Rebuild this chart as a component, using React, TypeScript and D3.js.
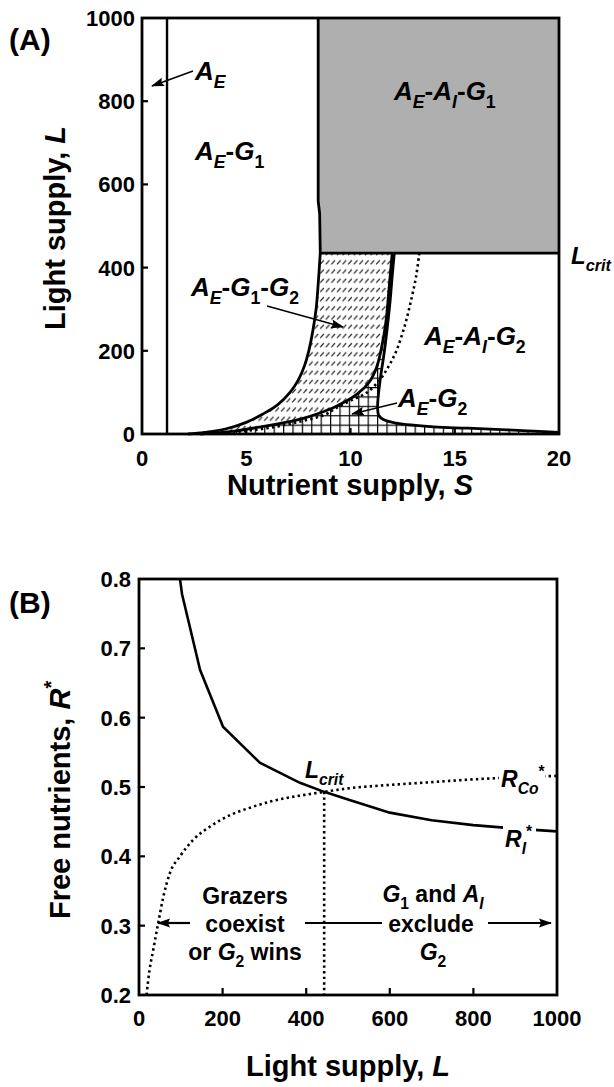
import React from 'react';
import * as d3 from 'd3';

// ---- Panel A: phase diagram (S, L) boundaries ----
const aeLine = [1.2, 1.2];
const hatchLeft: [number, number][] = [
  [2.2, 0], [3.0, 4], [4.0, 12], [5.0, 28], [5.8, 48], [6.5, 70], [7.1, 100],
  [7.5, 130], [7.8, 165], [8.0, 200], [8.2, 250], [8.35, 300], [8.45, 360], [8.55, 435],
];
const hatchRight: [number, number][] = [
  [2.8, 0], [4.1, 5], [5.7, 17], [7.6, 36], [8.5, 50], [9.3, 66], [10.3, 95],
  [10.9, 125], [11.25, 160], [11.5, 210], [11.7, 270], [11.85, 350], [12.0, 435],
];
const gridRight: [number, number][] = [
  [12.1, 435], [12.0, 380], [11.9, 320], [11.75, 250], [11.6, 190], [11.45, 140],
  [11.35, 100], [11.3, 65], [11.35, 45], [11.6, 34], [12.2, 26], [14, 17],
  [15.6, 14], [17.5, 10], [18.8, 7], [20, 4],
];
const dottedA: [number, number][] = [
  [13.3, 435], [13.15, 380], [12.9, 320], [12.6, 260], [12.2, 200], [11.8, 160],
  [11.4, 130], [10.8, 100], [10.0, 80], [9.3, 62], [8.8, 47], [7.5, 29],
  [6.0, 14], [4.5, 5], [3.2, 1],
];
const grayEdge: [number, number][] = [[8.45, 1000], [8.45, 560], [8.52, 530], [8.55, 435]];
const lCrit = 435;
const sTicks = [0, 5, 10, 15, 20];
const lTicks = [0, 200, 400, 600, 800, 1000];

// ---- Panel B: R* vs light supply ----
const rILight = [98, 103, 122, 146, 201, 289, 385, 443, 500, 600, 700, 800, 900, 1000];
const rIValues = [0.8, 0.778, 0.73, 0.669, 0.587, 0.535, 0.506, 0.493, 0.482, 0.463, 0.452, 0.445, 0.44, 0.436];
const rCoLight = [18, 25, 34, 46, 58, 74, 98, 130, 170, 220, 270, 320, 380, 443, 500, 600, 700, 800, 900, 1000];
const rCoValues = [0.2, 0.235, 0.265, 0.304, 0.341, 0.376, 0.4, 0.424, 0.443, 0.46, 0.471, 0.48, 0.487, 0.493, 0.498, 0.503, 0.507, 0.511, 0.514, 0.516];
const lCritB = 443;
const rCritB = 0.493;
const lightTicks = [0, 200, 400, 600, 800, 1000];
const rTicks = [0.2, 0.3, 0.4, 0.5, 0.6, 0.7, 0.8];

const FONT = '"Liberation Sans", Arial, Helvetica, sans-serif';

type Part = { t: string; it?: boolean; sub?: boolean; sup?: boolean };

// text with sub/superscripts, baseline handled by dy
const Rich = ({ x = 0, y = 0, parts, size = 26, anchor = 'start', transform }: { x?: number; y?: number; parts: Part[]; size?: number; anchor?: string; transform?: string }) => {
  let prev = 0;
  return (
    <text x={x} y={y} transform={transform} fontFamily={FONT} fontWeight="bold" fontSize={size} textAnchor={anchor} fill="#000">
      {parts.map((p, i) => {
        const off = p.sub ? size * 0.3 : p.sup ? -size * 0.42 : 0;
        const dy = off - prev;
        prev = off;
        return (
          <tspan key={i} dy={dy} fontSize={p.sub || p.sup ? size * 0.68 : size} fontStyle={p.it ? 'italic' : 'normal'}>
            {p.t}
          </tspan>
        );
      })}
    </text>
  );
};

const App = () => {
  const xA = d3.scaleLinear().domain([0, 20]).range([142, 559]);
  const yA = d3.scaleLinear().domain([0, 1000]).range([434, 18]);
  const xB = d3.scaleLinear().domain([0, 1000]).range([139, 557]);
  const yB = d3.scaleLinear().domain([0.2, 0.8]).range([995, 579]);

  const smooth = d3.line<[number, number]>().x(d => xA(d[0])).y(d => yA(d[1])).curve(d3.curveCatmullRom.alpha(0.5));
  const straight = d3.line<[number, number]>().x(d => xA(d[0])).y(d => yA(d[1]));
  const join = (segs: string[]) => segs.map((s, i) => (i ? s.replace(/^M/, 'L') : s)).join('') + 'Z';

  const hatchPath = join([
    smooth(hatchLeft)!,
    straight([[8.55, lCrit], [12.0, lCrit]])!,
    smooth([...hatchRight].reverse())!,
  ]);
  const gridPath = join([
    smooth(hatchRight)!,
    smooth(gridRight)!,
    straight([[20, 0], [2.8, 0]])!,
  ]);
  const grayPath = straight([...grayEdge, [20, lCrit], [20, 1000]] as [number, number][])! + 'Z';

  const lineI = d3.line<number>().x((d, i) => xB(rILight[i])).y(d => yB(d));
  const lineCo = d3.line<number>().x((d, i) => xB(rCoLight[i])).y(d => yB(d)).curve(d3.curveMonotoneX);

  const thick = { fill: 'none', stroke: '#000', strokeWidth: 2.8, strokeLinejoin: 'round' as const };
  const dots = { fill: 'none', stroke: '#000', strokeWidth: 2.6, strokeDasharray: '2.4 3.2' };
  const tickSize = 22;

  return (
    <svg width={614} height={1087} style={{ position: 'absolute', left: 0, top: 0, background: '#fff' }}>
      <defs>
        <pattern id="grid" patternUnits="userSpaceOnUse" x={142} y={434} width={9.4} height={9.4}>
          <path d="M0,0.6H9.4M0.6,0V9.4" stroke="#000" strokeWidth={1.2} />
        </pattern>
        <pattern id="hatch" patternUnits="userSpaceOnUse" x={0} y={0} width={5.6} height={9.2}>
          <path d="M1,6.8L4.6,2.8" stroke="#222" strokeWidth={1.2} />
        </pattern>
        <marker id="arr" markerUnits="userSpaceOnUse" markerWidth={13} markerHeight={10} refX={12} refY={5} orient="auto">
          <path d="M0,0.5L13,5L0,9.5L2,5Z" fill="#000" />
        </marker>
      </defs>

      {/* ---------- Panel A ---------- */}
      <path d={grayPath} fill="#afafaf" />
      <path d={hatchPath} fill="url(#hatch)" />
      <path d={gridPath} fill="url(#grid)" />
      <path d={smooth(hatchLeft)!} {...thick} />
      <path d={smooth(hatchRight)!} {...thick} />
      <path d={smooth(gridRight)!} {...thick} />
      <path d={straight([...grayEdge, [20, lCrit]] as [number, number][])!} {...thick} />
      <path d={smooth(dottedA)!} {...dots} />
      <line x1={xA(aeLine[0])} x2={xA(aeLine[1])} y1={yA(0)} y2={yA(1000)} stroke="#000" strokeWidth={2.4} />
      <rect x={xA(0)} y={yA(1000)} width={xA(20) - xA(0)} height={yA(0) - yA(1000)} fill="none" stroke="#000" strokeWidth={2.8} />
      {lTicks.slice(1, -1).map(t => (
        <line key={t} x1={xA(0)} x2={xA(0) + 6} y1={yA(t)} y2={yA(t)} stroke="#000" strokeWidth={2.2} />
      ))}
      {sTicks.slice(1, -1).map(t => (
        <line key={t} x1={xA(t)} x2={xA(t)} y1={yA(0)} y2={yA(0) - 6} stroke="#000" strokeWidth={2.2} />
      ))}
      {lTicks.map(t => (
        <text key={t} x={xA(0) - 7} y={yA(t) + 8} textAnchor="end" fontFamily={FONT} fontWeight="bold" fontSize={tickSize}>{t}</text>
      ))}
      {sTicks.map(t => (
        <text key={t} x={xA(t)} y={yA(0) + 32} textAnchor="middle" fontFamily={FONT} fontWeight="bold" fontSize={tickSize}>{t}</text>
      ))}
      <text transform="translate(65,228) rotate(-90)" textAnchor="middle" fontFamily={FONT} fontWeight="bold" fontSize={29}>
        Light supply, <tspan fontStyle="italic">L</tspan>
      </text>
      <text x={350} y={495} textAnchor="middle" fontFamily={FONT} fontWeight="bold" fontSize={29}>
        Nutrient supply, <tspan fontStyle="italic">S</tspan>
      </text>
      <text x={9} y={50} fontFamily={FONT} fontWeight="bold" fontSize={30}>(A)</text>

      <Rich x={195} y={80} parts={[{ t: 'A', it: true }, { t: 'E', it: true, sub: true }]} />
      <line x1={193} y1={71} x2={152} y2={86} stroke="#000" strokeWidth={1.6} markerEnd="url(#arr)" />
      <Rich x={195} y={160} parts={[{ t: 'A', it: true }, { t: 'E', it: true, sub: true }, { t: '-' }, { t: 'G', it: true }, { t: '1', sub: true }]} />
      <Rich x={394} y={100} parts={[{ t: 'A', it: true }, { t: 'E', it: true, sub: true }, { t: '-' }, { t: 'A', it: true }, { t: 'I', it: true, sub: true }, { t: '-' }, { t: 'G', it: true }, { t: '1', sub: true }]} />
      <Rich x={571} y={264} size={24} parts={[{ t: 'L', it: true }, { t: 'crit', it: true, sub: true }]} />
      <Rich x={191} y={296} parts={[{ t: 'A', it: true }, { t: 'E', it: true, sub: true }, { t: '-' }, { t: 'G', it: true }, { t: '1', sub: true }, { t: '-' }, { t: 'G', it: true }, { t: '2', sub: true }]} />
      <line x1={267} y1={306} x2={343} y2={327} stroke="#000" strokeWidth={1.6} markerEnd="url(#arr)" />
      <Rich x={424} y={345} parts={[{ t: 'A', it: true }, { t: 'E', it: true, sub: true }, { t: '-' }, { t: 'A', it: true }, { t: 'I', it: true, sub: true }, { t: '-' }, { t: 'G', it: true }, { t: '2', sub: true }]} />
      <Rich x={398} y={407} parts={[{ t: 'A', it: true }, { t: 'E', it: true, sub: true }, { t: '-' }, { t: 'G', it: true }, { t: '2', sub: true }]} />
      <line x1={397} y1={403} x2={352} y2={414} stroke="#000" strokeWidth={1.6} markerEnd="url(#arr)" />

      {/* ---------- Panel B ---------- */}
      <path d={lineI(rIValues)!} fill="none" stroke="#000" strokeWidth={2.6} />
      <path d={lineCo(rCoValues)!} {...dots} />
      <line x1={xB(lCritB)} x2={xB(lCritB)} y1={yB(rCritB)} y2={yB(0.2)} {...dots} />
      <rect x={xB(0)} y={yB(0.8)} width={xB(1000) - xB(0)} height={yB(0.2) - yB(0.8)} fill="none" stroke="#000" strokeWidth={2.8} />
      {rTicks.slice(1, -1).map(t => (
        <line key={t} x1={xB(0)} x2={xB(0) + 6} y1={yB(t)} y2={yB(t)} stroke="#000" strokeWidth={2.2} />
      ))}
      {lightTicks.slice(1, -1).map(t => (
        <line key={t} x1={xB(t)} x2={xB(t)} y1={yB(0.2)} y2={yB(0.2) - 7} stroke="#000" strokeWidth={2.2} />
      ))}
      {rTicks.map(t => (
        <text key={t} x={xB(0) - 8} y={yB(t) + 8} textAnchor="end" fontFamily={FONT} fontWeight="bold" fontSize={tickSize}>{d3.format('.1f')(t)}</text>
      ))}
      {lightTicks.map(t => (
        <text key={t} x={xB(t)} y={yB(0.2) + 31} textAnchor="middle" fontFamily={FONT} fontWeight="bold" fontSize={tickSize}>{t}</text>
      ))}
      <Rich transform="translate(70,800) rotate(-90)" size={29} anchor="middle" parts={[{ t: 'Free nutrients, ' }, { t: 'R', it: true }, { t: '*', sup: true }]} />
      <text x={348} y={1076} textAnchor="middle" fontFamily={FONT} fontWeight="bold" fontSize={29}>
        Light supply, <tspan fontStyle="italic">L</tspan>
      </text>
      <text x={9} y={613} fontFamily={FONT} fontWeight="bold" fontSize={30}>(B)</text>

      <Rich x={305} y={778} size={23} parts={[{ t: 'L', it: true }, { t: 'crit', it: true, sub: true }]} />
      <rect x={499} y={763} width={46} height={34} fill="#fff" />
      <Rich x={501} y={787} size={23} parts={[{ t: 'R', it: true }, { t: 'Co', it: true, sub: true }, { t: '*', sup: true }]} />
      <rect x={503} y={823} width={33} height={31} fill="#fff" />
      <Rich x={505} y={847} size={23} parts={[{ t: 'R', it: true }, { t: 'I', it: true, sub: true }, { t: '*', sup: true }]} />

      <Rich x={245} y={904} size={23} anchor="middle" parts={[{ t: 'Grazers' }]} />
      <Rich x={245} y={932} size={23} anchor="middle" parts={[{ t: 'coexist' }]} />
      <Rich x={245} y={960} size={23} anchor="middle" parts={[{ t: 'or ' }, { t: 'G', it: true }, { t: '2', sub: true }, { t: ' wins' }]} />
      <Rich x={433} y={902} size={23} anchor="middle" parts={[{ t: 'G', it: true }, { t: '1', sub: true }, { t: ' and ' }, { t: 'A', it: true }, { t: 'I', it: true, sub: true }]} />
      <Rich x={431} y={932} size={23} anchor="middle" parts={[{ t: 'exclude' }]} />
      <Rich x={433} y={960} size={23} anchor="middle" parts={[{ t: 'G', it: true }, { t: '2', sub: true }]} />
      <line x1={190} y1={923} x2={158} y2={923} stroke="#000" strokeWidth={2.2} markerEnd="url(#arr)" />
      <line x1={305} y1={923} x2={382} y2={923} stroke="#000" strokeWidth={2.2} />
      <line x1={488} y1={923} x2={551} y2={923} stroke="#000" strokeWidth={2.2} markerEnd="url(#arr)" />
    </svg>
  );
};

export default App;
